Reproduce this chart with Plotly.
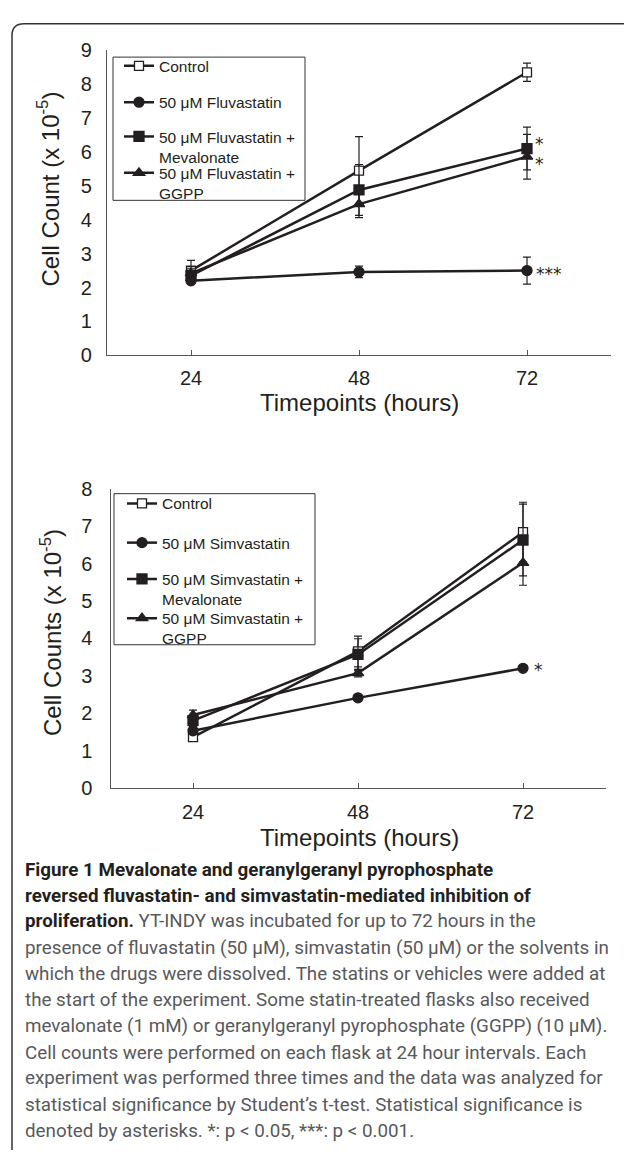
import plotly.graph_objects as go

W, H = 624, 1161

hours = [24, 48, 72]

# ---- Panel A: fluvastatin ----
fluva_names = ["Control", "50 μM Fluvastatin",
               "50 μM Fluvastatin +<br>Mevalonate", "50 μM Fluvastatin +<br>GGPP"]
fluva_control = [2.50, 5.45, 8.35]
fluva_control_err = [0.30, 1.00, 0.27]
fluva_drug = [2.20, 2.46, 2.50]
fluva_drug_err = [0.10, 0.17, 0.40]
fluva_meval = [2.35, 4.88, 6.10]
fluva_meval_err = [0.20, 0.75, 0.63]
fluva_ggpp = [2.42, 4.46, 5.86]
fluva_ggpp_err = [0.20, 0.40, 0.66]
fluva_stars = {"meval": "*", "ggpp": "*", "drug": "***"}

# ---- Panel B: simvastatin ----
simva_names = ["Control", "50 μM Simvastatin",
               "50 μM Simvastatin +<br>Mevalonate", "50 μM Simvastatin +<br>GGPP"]
simva_control = [1.36, 3.65, 6.84]
simva_control_err = [0.10, 0.41, 0.80]
simva_drug = [1.53, 2.41, 3.20]
simva_drug_err = [0.05, 0.05, 0.05]
simva_meval = [1.80, 3.57, 6.63]
simva_meval_err = [0.15, 0.42, 0.96]
simva_ggpp = [1.95, 3.07, 6.02]
simva_ggpp_err = [0.13, 0.10, 0.60]
simva_stars = {"drug": "*"}

caption_lines = [
    "<b>Figure 1 Mevalonate and geranylgeranyl pyrophosphate</b>",
    "<b>reversed fluvastatin- and simvastatin-mediated inhibition of</b>",
    "<b>proliferation.</b> <span style='color:#58595b'>YT-INDY was incubated for up to 72 hours in the</span>",
    "presence of fluvastatin (50 μM), simvastatin (50 μM) or the solvents in",
    "which the drugs were dissolved. The statins or vehicles were added at",
    "the start of the experiment. Some statin-treated flasks also received",
    "mevalonate (1 mM) or geranylgeranyl pyrophosphate (GGPP) (10 μM).",
    "Cell counts were performed on each flask at 24 hour intervals. Each",
    "experiment was performed three times and the data was analyzed for",
    "statistical significance by Student’s t-test. Statistical significance is",
    "denoted by asterisks. *: p < 0.05, ***: p < 0.001.",
]

INK = "#231f20"
AX = "#555555"
FONT = "Liberation Sans, Arial, sans-serif"


def px_x(p):
    return p / W


def px_y(p):
    return 1 - p / H


fig = go.Figure()

symbols = ["square", "circle", "square", "triangle-up"]

# legend layout (pixel positions of the first text line of each entry)
top_legend_rows = [56, 93, 128, 165]
bot_legend_rows = [502, 542, 579, 619]
LEG_FS = 15.5
legend_layout = {}


def add_panel(names, series, errs, xa, ya, leg_ids, rows, leg_x):
    for i, (nm, ys, es) in enumerate(zip(names, series, errs)):
        lid = leg_ids[i]
        fig.add_trace(go.Scatter(
            x=hours, y=ys, name=nm, mode="lines+markers",
            xaxis=xa, yaxis=ya, legend=lid,
            line=dict(color=INK, width=2.5),
            marker=dict(symbol=symbols[i], size=10 if i else 9,
                        color=INK if i else "white",
                        line=dict(color=INK, width=1.3)),
            error_y=dict(type="data", array=es, visible=True, color=INK,
                         thickness=1.2, width=4),
        ))
        legend_layout[lid] = dict(
            x=px_x(leg_x), y=px_y(rows[i] - 17), xanchor="left", yanchor="top",
            borderwidth=0, bgcolor="rgba(0,0,0,0)", valign="top",
            font=dict(family=FONT, size=LEG_FS, color=INK))


add_panel(fluva_names, [fluva_control, fluva_drug, fluva_meval, fluva_ggpp],
          [fluva_control_err, fluva_drug_err, fluva_meval_err, fluva_ggpp_err],
          "x", "y", ["legend", "legend2", "legend3", "legend4"], top_legend_rows, 119)
add_panel(simva_names, [simva_control, simva_drug, simva_meval, simva_ggpp],
          [simva_control_err, simva_drug_err, simva_meval_err, simva_ggpp_err],
          "x2", "y2", ["legend5", "legend6", "legend7", "legend8"], bot_legend_rows, 122)

axis_common = dict(showgrid=False, zeroline=False, showline=True, linecolor=AX,
                   linewidth=1.2, tickfont=dict(family=FONT, size=20, color=INK))
xtick = dict(ticks="inside", ticklen=5, tickcolor=AX, tickwidth=1.2,
             minor=dict(tickvals=[84], ticks="inside", ticklen=5, tickcolor=AX, tickwidth=1.2))

fig.update_layout(
    width=W, height=H, autosize=False,
    margin=dict(l=0, r=0, t=0, b=0),
    paper_bgcolor="white", plot_bgcolor="white",
    showlegend=True,
    xaxis=dict(domain=[px_x(107), px_x(611)], range=[12, 84], tickvals=hours,
               anchor="y", ticklabelstandoff=5, **xtick, **axis_common),
    yaxis=dict(domain=[px_y(351), px_y(40)], range=[0, 9], dtick=1, ticks="",
               anchor="x", ticklabelstandoff=10, **axis_common),
    xaxis2=dict(domain=[px_x(110.5), px_x(605.5)], range=[12, 84], tickvals=hours,
                anchor="y2", ticklabelstandoff=6, **xtick, **axis_common),
    yaxis2=dict(domain=[px_y(792), px_y(487)], range=[0, 8], dtick=1, ticks="",
                anchor="x2", ticklabelstandoff=13, **axis_common),
    **legend_layout,
)

# legend frames
fig.add_shape(type="rect", xref="paper", yref="paper", layer="above",
              x0=px_x(113), x1=px_x(305), y0=px_y(193), y1=px_y(47),
              line=dict(color="#333", width=1), fillcolor="white")
fig.add_shape(type="rect", xref="paper", yref="paper", layer="above",
              x0=px_x(114), x1=px_x(315), y0=px_y(646), y1=px_y(492),
              line=dict(color="#333", width=1), fillcolor="white")

annotations = []
title_font = dict(family=FONT, size=24, color=INK)
# axis titles
annotations.append(dict(text="Cell Count (x 10<sup>-5</sup>)", x=px_x(48), y=px_y(182),
                        xref="paper", yref="paper", textangle=-90, showarrow=False,
                        xanchor="center", yanchor="middle", font=title_font))
annotations.append(dict(text="Timepoints (hours)", x=px_x(360), y=px_y(399),
                        xref="paper", yref="paper", showarrow=False,
                        xanchor="center", yanchor="middle", font=title_font))
annotations.append(dict(text="Cell Counts (x 10<sup>-5</sup>)", x=px_x(51), y=px_y(634),
                        xref="paper", yref="paper", textangle=-90, showarrow=False,
                        xanchor="center", yanchor="middle", font=title_font))
annotations.append(dict(text="Timepoints (hours)", x=px_x(360), y=px_y(842),
                        xref="paper", yref="paper", showarrow=False,
                        xanchor="center", yanchor="middle", font=title_font))

# significance stars (positioned at the 72 h data points)
star_font = dict(family="DejaVu Sans", size=17, color=INK)
annotations.append(dict(text=fluva_stars["meval"], x=hours[2], y=fluva_meval[2], xref="x", yref="y",
                        xanchor="left", yanchor="middle", xshift=6, yshift=4.6,
                        showarrow=False, font=star_font))
annotations.append(dict(text=fluva_stars["ggpp"], x=hours[2], y=fluva_ggpp[2], xref="x", yref="y",
                        xanchor="left", yanchor="middle", xshift=6, yshift=-7.1,
                        showarrow=False, font=star_font))
annotations.append(dict(text=fluva_stars["drug"], x=hours[2], y=fluva_drug[2], xref="x", yref="y",
                        xanchor="left", yanchor="middle", xshift=7, yshift=-3,
                        showarrow=False, font=star_font))
annotations.append(dict(text=simva_stars["drug"], x=hours[2], y=simva_drug[2], xref="x2", yref="y2",
                        xanchor="left", yanchor="middle", xshift=9, yshift=-1.5,
                        showarrow=False, font=star_font))

# caption
cap_y = [876, 902, 928, 955, 982, 1008, 1035, 1062, 1088, 1115, 1142]
for line, yy in zip(caption_lines, cap_y):
    annotations.append(dict(text=line, x=px_x(23), y=px_y(yy), xref="paper", yref="paper",
                            xanchor="left", yanchor="middle", showarrow=False,
                            font=dict(family="Roboto, sans-serif", size=18.8,
                                      color=INK if line.startswith("<b>") else "#58595b")))

fig.update_layout(annotations=annotations)

# rounded frame (top-left corner) of the figure panel
x0, y0, r = px_x(12), px_y(13), 12
fig.add_shape(type="path", xref="paper", yref="paper",
              path=(f"M {x0} 0 L {x0} {px_y(13 + r)} "
                    f"Q {x0} {y0} {px_x(12 + r)} {y0} L 1 {y0}"),
              line=dict(color="#333", width=1.5))

fig.write_html("out.html", config={"displayModeBar": False},
               post_script="document.body.style.margin='0';document.body.style.overflow='hidden';")
